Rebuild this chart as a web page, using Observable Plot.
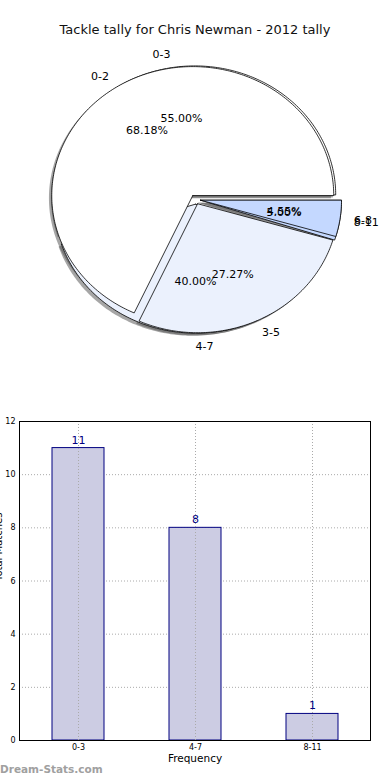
<!DOCTYPE html>
<html>
<head>
<meta charset="utf-8">
<script src="https://cdn.jsdelivr.net/npm/d3@7"></script>
<script src="https://cdn.jsdelivr.net/npm/@observablehq/plot@0.6"></script>
<style>
  html, body { margin: 0; padding: 0; background: #fff; }
  #wrap { position: relative; width: 390px; height: 780px; overflow: hidden; font-family: "DejaVu Sans", sans-serif; }
  #title { position: absolute; left: 0; width: 390px; top: 22px; line-height: 16px; text-align: center; font-size: 13px; color: #111; }
  #pie { position: absolute; left: 0; top: 44px; }
  #bars { position: absolute; left: 0; top: 410px; }
  #mark { position: absolute; left: 0; top: 763px; font-size: 10.5px; font-weight: bold; color: #a0a0a0; }
</style>
</head>
<body>
<div id="wrap">
  <div id="title"></div>
  <div id="pie"></div>
  <div id="bars"></div>
  <div id="mark"></div>
</div>
<script>
const chartTitle = "Tackle tally for Chris Newman - 2012 tally";
const groupsA = ["0-3", "4-7", "8-11"];
const countsA = [11, 8, 1];
const groupsB = ["0-2", "3-5", "6-8"];
const countsB = [15, 6, 1];
const sliceColors = ["#ffffff", "#ebf1fd", "#c4d8ff"];
const yTicks = [0, 2, 4, 6, 8, 10, 12];
const xLabel = "Frequency";
const yLabel = "Total Matches";
const watermark = "Dream-Stats.com";

document.getElementById("title").textContent = chartTitle;
document.getElementById("mark").textContent = watermark;

const FONT = "DejaVu Sans, sans-serif";

function wedges(labels, counts, explode) {
  const total = d3.sum(counts);
  let t1 = 0;
  return labels.map((label, i) => {
    const frac = counts[i] / total;
    const t2 = t1 + frac;
    const thm = Math.PI * (t1 + t2);
    const ex = explode * Math.cos(thm), ey = explode * Math.sin(thm);
    const pts = [{x: ex, y: ey}];
    const n = Math.max(4, Math.ceil(frac * 360));
    for (let k = 0; k <= n; k++) {
      const a = 2 * Math.PI * (t1 + frac * k / n);
      pts.push({x: ex + Math.cos(a), y: ey + Math.sin(a)});
    }
    pts.push({x: ex, y: ey});
    const w = {
      label, pts, color: sliceColors[i],
      lx: ex + 1.1 * Math.cos(thm), ly: ey + 1.1 * Math.sin(thm),
      px: ex + 0.6 * Math.cos(thm), py: ey + 0.6 * Math.sin(thm),
      pct: (frac * 100).toFixed(2) + "%"
    };
    t1 = t2;
    return w;
  });
}

const EXP = 0.036;
const pieA = wedges(groupsA, countsA, EXP);
const pieB = wedges(groupsB, countsB, EXP);
const all = [...pieA, ...pieB];

const W = 390, H = 350, CX = 195, CY = 155, RX = 141, RY = 129;
const marks = [];
for (const w of all) {
  marks.push(Plot.line(w.pts.map(p => ({x: p.x - 0.02, y: p.y - 0.02})), {x: "x", y: "y", fill: "#4d4d4d", fillOpacity: 0.5, stroke: "none"}));
}
for (const w of all) {
  marks.push(Plot.line(w.pts, {x: "x", y: "y", fill: w.color, stroke: "#000", strokeWidth: 0.8}));
}
const lbl = all.map(w => ({x: w.lx, y: w.ly, t: w.label}));
const isRight = d => d.x > -1e-9;
marks.push(Plot.text(lbl.filter(isRight), {x: "x", y: "y", text: "t", textAnchor: "start", fontSize: 11, fill: "#000"}));
marks.push(Plot.text(lbl.filter(d => !isRight(d)), {x: "x", y: "y", text: "t", textAnchor: "end", fontSize: 11, fill: "#000"}));
marks.push(Plot.text(all.map(w => ({x: w.px, y: w.py, t: w.pct})), {x: "x", y: "y", text: "t", fontSize: 11, fill: "#000"}));

const pie = Plot.plot({
  width: W, height: H, margin: 0,
  style: {fontFamily: FONT, background: "transparent", overflow: "visible"},
  x: {domain: [-CX / RX, (W - CX) / RX], axis: null},
  y: {domain: [-(H - CY) / RY, CY / RY], axis: null},
  marks
});
document.getElementById("pie").appendChild(pie);

const barData = groupsA.map((g, i) => ({cat: g, val: countsA[i]}));
const bars = Plot.plot({
  width: 390, height: 370,
  marginLeft: 19, marginRight: 20, marginTop: 11, marginBottom: 40,
  style: {fontFamily: FONT, background: "transparent", overflow: "visible", color: "#000"},
  x: {domain: groupsA, paddingInner: 0.5556, paddingOuter: 0.2778},
  y: {domain: [0, 12]},
  marks: [
    Plot.gridY(yTicks, {stroke: "#aaa", strokeOpacity: 1, strokeDasharray: "1,2", strokeWidth: 1}),
    Plot.gridX(groupsA, {stroke: "#aaa", strokeOpacity: 1, strokeDasharray: "1,2", strokeWidth: 1}),
    Plot.barY(barData, {x: "cat", y: "val", fill: "#ccccE3", stroke: "#000080", strokeWidth: 1}),
    Plot.gridX(groupsA, {stroke: "#aaa", strokeOpacity: 1, strokeDasharray: "1,2", strokeWidth: 1}),
    Plot.text(barData, {x: "cat", y: "val", text: d => String(d.val), dy: -8, fill: "#000080", fontSize: 11}),
    Plot.axisY({ticks: yTicks, tickSize: 0, tickPadding: 4, fontSize: 8, label: null}),
    Plot.axisX({tickSize: 0, tickPadding: 4, fontSize: 8, label: null}),
    Plot.text([xLabel], {frameAnchor: "bottom", dy: 21, fontSize: 10.5, fill: "#000"}),
    Plot.text([yLabel], {frameAnchor: "left", rotate: -90, dx: -21, fontSize: 10, fill: "#000"}),
    Plot.frame({stroke: "#000", strokeWidth: 1})
  ]
});
document.getElementById("bars").appendChild(bars);
</script>
</body>
</html>
